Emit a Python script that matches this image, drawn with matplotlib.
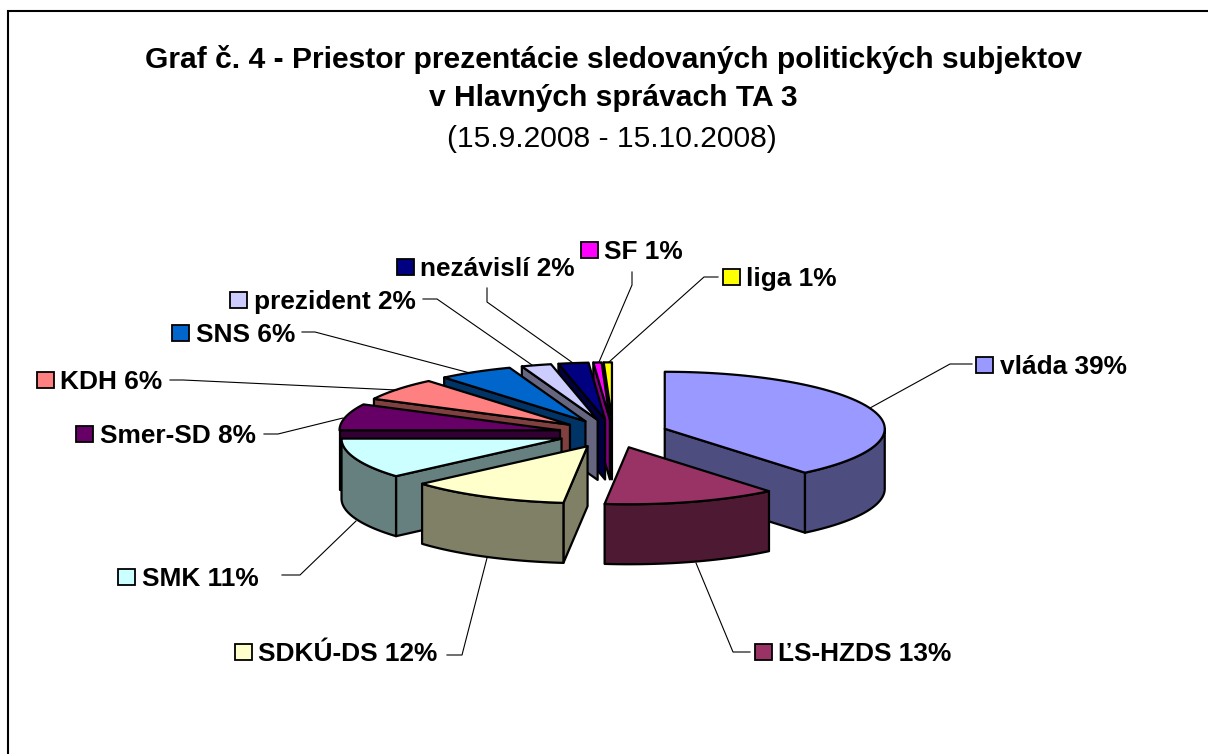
import numpy as np
import matplotlib
matplotlib.use("Agg")
import matplotlib.pyplot as plt
from matplotlib.patches import Polygon, Rectangle

plt.rcParams['font.family'] = ['Liberation Sans', 'DejaVu Sans']

# ---- data ----
categories = ['vláda', 'ĽS-HZDS', 'SDKÚ-DS', 'SMK', 'Smer-SD', 'KDH', 'SNS',
              'prezident', 'nezávislí', 'SF', 'liga']
shares = [39.0, 12.75, 11.8, 11.45, 7.5, 6.4, 5.5, 2.2, 2.2, 0.6, 0.6]
displayed = [39, 13, 12, 11, 8, 6, 6, 2, 2, 1, 1]
top_colors = ['#9999FF', '#993366', '#FFFFCC', '#CCFFFF', '#660066', '#FF8080',
              '#0066CC', '#CCCCFF', '#000080', '#FF00FF', '#FFFF00']
side_colors = ['#4D4D80', '#4D1933', '#808066', '#668080', '#330033', '#804040',
               '#003366', '#666680', '#000040', '#800080', '#808000']
title_lines = ['Graf č. 4 - Priestor prezentácie sledovaných politických subjektov',
               'v Hlavných správach TA 3']
subtitle = '(15.9.2008 - 15.10.2008)'

# ---- layout (pixels) ----
W, H = 1208, 754
CX, CY = 613, 433.6
RX, RY = 220, 57
DEPTH = 60
EXPLODE = 0.25
label_pos = [(976, 365), (755, 652), (235, 652), (118, 577), (76, 434), (37, 380),
             (172, 333), (230, 300), (397, 267), (581, 250), (723, 277)]
leaders = [
    [(870, 408), (950, 364), (972, 364)],
    [(696, 563), (733, 652), (750, 652)],
    [(487, 558), (462, 655), (447, 655)],
    [(356, 521), (300, 575), (282, 575)],
    [(343, 418), (278, 434), (264, 434)],
    [(397, 390), (183, 380), (170, 380)],
    [(470, 373), (315, 332), (302, 332)],
    [(532, 365), (437, 299), (423, 299)],
    [(573, 363), (487, 302), (487, 288)],
    [(599, 362), (632, 285), (632, 272)],
    [(609, 362), (704, 277), (718, 277)],
]
KEY = 16.5
FS = 18.9
EDGE = 1.6

fig = plt.figure(figsize=(W / 100, H / 100), dpi=100, facecolor='white')
ax = fig.add_axes([0, 0, 1, 1])
ax.set_xlim(0, W)
ax.set_ylim(H, 0)
ax.axis('off')

ax.plot([8, 8, W + 5], [H + 5, 11, 11], color='black', lw=1.5, solid_joinstyle='miter')


def pt(c, deg, r=1.0):
    t = np.radians(deg)
    return np.column_stack([c[0] + r * RX * np.sin(t), c[1] - r * RY * np.cos(t)])


fractions = np.array(shares) / sum(shares)
ends = np.cumsum(fractions) * 360
starts = ends - fractions * 360
mids = (starts + ends) / 2
order = np.argsort(-np.cos(np.radians(mids)))

for i in order:
    a, b, m = starts[i], ends[i], mids[i]
    t = np.radians(m)
    c = (CX + EXPLODE * RX * np.sin(t), CY - EXPLODE * RY * np.cos(t))
    down = np.array([0, DEPTH])
    style = dict(ec='black', lw=EDGE, joinstyle='round')
    # cut faces
    for ang, show in ((a, np.sin(np.radians(a)) < 0), (b, np.sin(np.radians(b)) > 0)):
        if show:
            e = pt(c, ang)[0]
            q = [c, e, e + down, np.array(c) + down]
            ax.add_patch(Polygon(q, closed=True, fc=side_colors[i], **style))
    # outer wall (front half only)
    lo, hi = max(a, 90), min(b, 270)
    if hi > lo:
        arc = pt(c, np.linspace(lo, hi, 60))
        ax.add_patch(Polygon(np.vstack([arc, (arc + down)[::-1]]), closed=True,
                             fc=side_colors[i], **style))
    # top
    arc = pt(c, np.linspace(a, b, 80))
    ax.add_patch(Polygon(np.vstack([[c], arc]), closed=True, fc=top_colors[i], **style))

for i, name in enumerate(categories):
    x, y = label_pos[i]
    ax.add_patch(Rectangle((x, y - KEY / 2), KEY, KEY, fc=top_colors[i], ec='black', lw=1.3))
    ax.text(x + KEY + 7, y + 9, f'{name} {displayed[i]}%', fontsize=FS, fontweight='bold',
            ha='left', va='baseline', color='black')
    xs, ys = zip(*leaders[i])
    ax.plot(xs, ys, color='black', lw=0.8)

ax.text(613.5, 68, title_lines[0], fontsize=21.6, fontweight='bold', ha='center', va='baseline')
ax.text(613.5, 105.5, title_lines[1], fontsize=21.6, fontweight='bold', ha='center', va='baseline')
ax.text(612, 147, subtitle, fontsize=21.6, ha='center', va='baseline')

fig.savefig('out.png', dpi=100)
